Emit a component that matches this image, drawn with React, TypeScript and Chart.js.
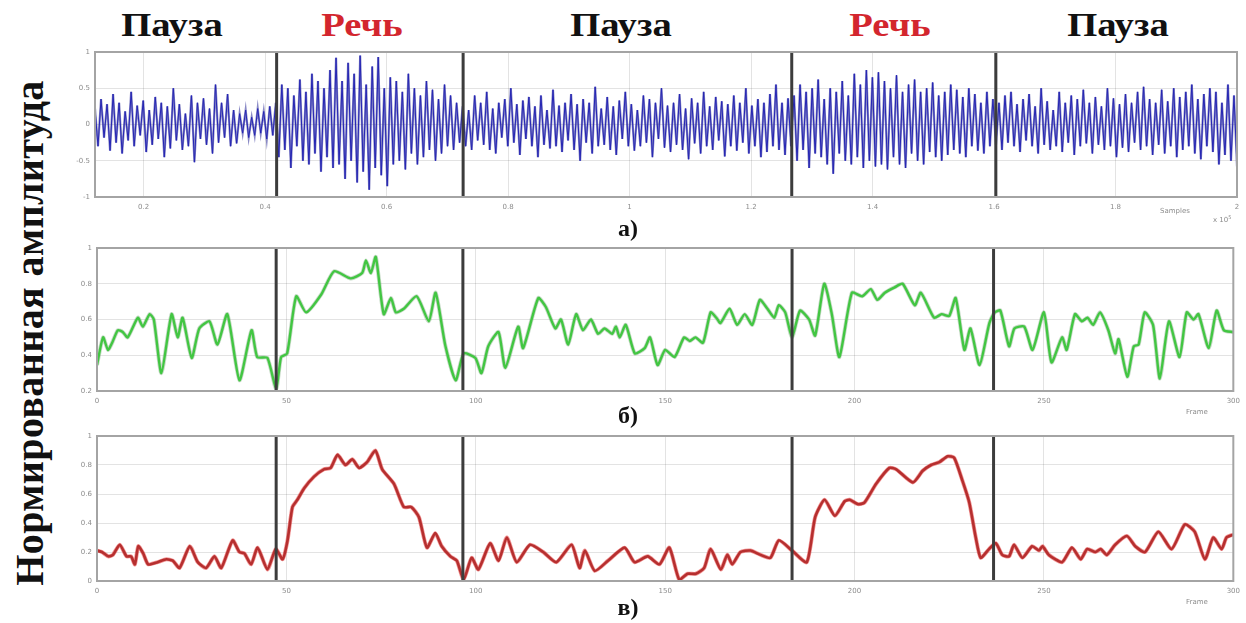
import React, { useEffect, useRef } from "react";
import { Chart, registerables } from "chart.js";

Chart.register(...registerables);

// ---------------- DATA ----------------
// Panel a) raw waveform (x in Samples ×10^5, uniformly sampled)
const SAMPLE_START = 0.12;
const SAMPLE_END = 2.0;
const WAVE_PAUSE_1 = [
  0.22, -0.3, 0.35, -0.18, 0.28, -0.36, 0.42, -0.25, 0.3, -0.4, 0.18, -0.22, 0.45, -0.3, 0.26, -0.15, 0.33, -0.38, 0.2, -0.28,
  0.38, -0.2, 0.3, -0.45, 0.25, -0.33, 0.5, -0.22, 0.28, -0.35, 0.15, -0.3, 0.4, -0.52, 0.3, -0.2, 0.36, -0.28, 0.22, -0.4,
  0.55, -0.25, 0.3, -0.18, 0.42, -0.3, 0.2, -0.26, 0.15, -0.12, 0.2, -0.18, 0.1, -0.15, 0.22, -0.12, 0.18, -0.2, 0.25, -0.15,
];
const WAVE_SPEECH_1 = [
  0.3, -0.45, 0.55, -0.35, 0.5, -0.6, 0.4, -0.3, 0.62, -0.5, 0.45, -0.55, 0.7, -0.4, 0.6, -0.65, 0.5, -0.45, 0.75, -0.6,
  0.92, -0.55, 0.6, -0.75, 0.85, -0.5, 0.7, -0.8, 0.95, -0.65, 0.55, -0.9, 0.8, -0.6, 0.93, -0.7, 0.5, -0.85, 0.65, -0.55,
  0.6, -0.5, 0.45, -0.62, 0.7, -0.4, 0.5, -0.55, 0.4, -0.45, 0.6, -0.35, 0.48, -0.5, 0.35, -0.4, 0.55, -0.3, 0.4, -0.35, 0.3, -0.25,
];
const WAVE_PAUSE_2 = [
  0.25, -0.3, 0.2, -0.35, 0.4, -0.22, 0.3, -0.28, 0.45, -0.35,
  0.22, -0.4, 0.3, -0.18, 0.35, -0.3, 0.5, -0.25, 0.28, -0.42,
  0.33, -0.2, 0.38, -0.3, 0.25, -0.45, 0.4, -0.28, 0.2, -0.33,
  0.48, -0.3, 0.26, -0.38, 0.3, -0.22, 0.42, -0.35, 0.28, -0.5,
  0.35, -0.25, 0.3, -0.4, 0.52, -0.3, 0.22, -0.28, 0.38, -0.35,
  0.25, -0.42, 0.33, -0.2, 0.45, -0.3, 0.28, -0.36, 0.2, -0.3,
  0.4, -0.25, 0.35, -0.45, 0.3, -0.2, 0.5, -0.32, 0.26, -0.38,
  0.3, -0.28, 0.42, -0.35, 0.22, -0.48, 0.36, -0.26, 0.3, -0.4,
  0.45, -0.3, 0.25, -0.35, 0.38, -0.22, 0.32, -0.44, 0.28, -0.3,
  0.4, -0.36, 0.3, -0.25, 0.5, -0.4, 0.26, -0.3, 0.35, -0.45,
  0.3, -0.38, 0.42, -0.3, 0.55, -0.35, 0.3, -0.42, 0.36, -0.3,
];
const WAVE_SPEECH_2 = [
  0.4, -0.5, 0.55, -0.35, 0.45, -0.6, 0.5, -0.4, 0.62, -0.45,
  0.35, -0.55, 0.5, -0.68, 0.45, -0.4, 0.6, -0.5, 0.4, -0.55,
  0.7, -0.45, 0.55, -0.6, 0.75, -0.5, 0.65, -0.58, 0.72, -0.55,
  0.6, -0.62, 0.5, -0.45, 0.68, -0.55, 0.45, -0.6, 0.55, -0.4,
  0.62, -0.5, 0.45, -0.55, 0.5, -0.38, 0.58, -0.45, 0.4, -0.5,
  0.45, -0.42, 0.55, -0.35, 0.48, -0.4, 0.38, -0.45, 0.5, -0.3,
  0.42, -0.36, 0.3, -0.4, 0.45, -0.3, 0.35, -0.28,
];
const WAVE_PAUSE_3 = [
  0.3, -0.35, 0.4, -0.25, 0.45, -0.3, 0.28, -0.38, 0.35, -0.22,
  0.42, -0.3, 0.25, -0.4, 0.5, -0.28, 0.32, -0.35, 0.2, -0.3,
  0.45, -0.38, 0.3, -0.25, 0.4, -0.42, 0.35, -0.3, 0.48, -0.26,
  0.3, -0.4, 0.38, -0.28, 0.25, -0.35, 0.5, -0.3, 0.36, -0.45,
  0.28, -0.32, 0.42, -0.38, 0.3, -0.25, 0.45, -0.35, 0.52, -0.3,
  0.35, -0.42, 0.3, -0.28, 0.48, -0.4, 0.32, -0.3, 0.5, -0.45,
  0.38, -0.35, 0.45, -0.3, 0.55, -0.4, 0.35, -0.48, 0.42, -0.3,
  0.5, -0.38, 0.45, -0.55, 0.3, -0.42, 0.55, -0.5, 0.4, -0.58,
];
const WAVE_VALUES = [...WAVE_PAUSE_1, ...WAVE_SPEECH_1, ...WAVE_PAUSE_2, ...WAVE_SPEECH_2, ...WAVE_PAUSE_3];

// Speech / pause boundaries
const BOUNDARY_SAMPLES = [0.419, 0.726, 1.267, 1.603];
const BOUNDARY_FRAMES = [47.3, 96.6, 183.5, 236.7];

// Panel б) green curve
const GREEN_FRAMES = [
  0, 1.6, 2.9, 4, 5.5, 6.8, 8.1, 10.8, 12.1, 13.9, 15, 17, 19.7, 21.3, 22.6, 25, 27, 29.7, 31.8, 34.4,
  37.6, 40.8, 42.3, 45, 47.3, 48.6, 50.2, 52.6, 55.2, 59.2, 62.6, 67, 70, 71, 72.3, 73.6, 75.7, 77.6, 78.9, 81,
  84.4, 87.6, 89.4, 92, 94.7, 96.8, 99.9, 101.5, 103.3, 106, 107.8, 111.2, 112.5, 116.5, 118.5, 121, 122.5, 124.4, 126.5, 128.3,
  130.4, 132.3, 134, 136, 137, 138, 139.6, 142, 144.6, 146, 148, 150, 152.5, 155, 156.5, 158, 160, 162, 163.5, 164.6,
  167, 169, 171, 173, 175, 177, 178.8, 180, 181.7, 183.5, 185.6, 188, 189.6, 192, 194, 196, 199.3, 202, 204.3, 206,
  208, 210.6, 212.7, 215.9, 217.5, 221, 223, 225, 226.7, 229, 230.6, 233, 235.6, 237, 238.5, 240.8, 242.2, 244.8, 247, 250,
  252, 254.8, 256, 258.2, 260, 261.5, 263, 264.8, 267, 268.8, 269.7, 272, 273.7, 275, 276.6, 278.8, 280.6, 283, 285.8, 287.7,
  289.5, 290.8, 293.5, 295.6, 297.5, 300,
];
const GREEN_VALUES = [
  0.345, 0.5, 0.43, 0.47, 0.54, 0.53, 0.5, 0.61, 0.56, 0.63, 0.6, 0.3, 0.63, 0.5, 0.61, 0.385, 0.55, 0.59, 0.46, 0.63,
  0.26, 0.54, 0.39, 0.385, 0.21, 0.39, 0.41, 0.73, 0.64, 0.74, 0.87, 0.83, 0.86, 0.93, 0.86, 0.95, 0.63, 0.72, 0.64, 0.66,
  0.73, 0.59, 0.75, 0.45, 0.26, 0.41, 0.385, 0.3, 0.45, 0.53, 0.33, 0.56, 0.44, 0.72, 0.67, 0.55, 0.6, 0.46, 0.63, 0.54,
  0.6, 0.52, 0.55, 0.52, 0.56, 0.5, 0.57, 0.41, 0.44, 0.5, 0.345, 0.43, 0.39, 0.5, 0.48, 0.5, 0.47, 0.64, 0.61, 0.58,
  0.66, 0.57, 0.63, 0.57, 0.71, 0.66, 0.61, 0.68, 0.64, 0.5, 0.65, 0.6, 0.51, 0.8, 0.63, 0.39, 0.75, 0.73, 0.77, 0.71,
  0.75, 0.78, 0.8, 0.68, 0.75, 0.61, 0.63, 0.62, 0.72, 0.43, 0.55, 0.345, 0.58, 0.64, 0.65, 0.45, 0.55, 0.56, 0.43, 0.64,
  0.36, 0.5, 0.43, 0.63, 0.59, 0.61, 0.57, 0.64, 0.54, 0.41, 0.49, 0.28, 0.45, 0.46, 0.64, 0.57, 0.27, 0.59, 0.39, 0.64,
  0.6, 0.63, 0.44, 0.65, 0.54, 0.53,
];

// Panel в) red curve
const RED_FRAMES = [
  0, 1.3, 3, 4.2, 6, 7.8, 9, 10, 10.9, 12.2, 13.5, 16, 18.3, 20, 21.8, 24.5, 26.6, 28.8, 31, 32.8,
  35.8, 37.6, 38.9, 40.7, 42.4, 45, 47.2, 49, 50.3, 51.6, 52.9, 54.7, 57.3, 59.9, 61.7, 63.5, 65.6, 67.4, 69.2, 71.3,
  73.5, 75.3, 78.4, 81, 83, 85, 87.1, 89.3, 91, 93.3, 95, 96.8, 98.9, 100.7, 103.8, 106, 108.2, 110.8, 114.3, 117.8,
  121.3, 125.3, 127.4, 128.8, 131.4, 134.9, 139.3, 141.9, 145.4, 148.5, 151.1, 153.7, 155.9, 158.1, 160.3, 162, 164.7, 166.4, 167.7, 169.9,
  172.5, 175.2, 177.8, 180, 183.5, 187.4, 189.6, 192.1, 194.8, 197.4, 198.7, 200.9, 202.6, 205.7, 209.2, 211, 215.4, 218, 220.2, 222.4,
  224.6, 226.3, 228.5, 230.3, 232, 233.3, 235.5, 237.3, 239, 240.8, 242.1, 244.3, 246.9, 248.7, 249.6, 251.3, 254.8, 257.4, 259.7, 261.4,
  263.6, 265, 266.6, 268.8, 271.9, 274.1, 276.7, 280.2, 283.7, 287.2, 289.8, 292.5, 294.7, 296.9, 298.2, 300,
];
const RED_VALUES = [
  0.21, 0.2, 0.17, 0.18, 0.25, 0.17, 0.17, 0.115, 0.24, 0.19, 0.115, 0.13, 0.15, 0.14, 0.09, 0.24, 0.13, 0.09, 0.17, 0.09,
  0.28, 0.2, 0.19, 0.115, 0.23, 0.08, 0.22, 0.15, 0.28, 0.51, 0.56, 0.64, 0.72, 0.77, 0.78, 0.87, 0.8, 0.84, 0.78, 0.82,
  0.9, 0.77, 0.67, 0.51, 0.51, 0.44, 0.23, 0.33, 0.24, 0.17, 0.14, 0.01, 0.16, 0.08, 0.26, 0.14, 0.3, 0.13, 0.25, 0.2,
  0.13, 0.25, 0.09, 0.21, 0.07, 0.14, 0.23, 0.13, 0.17, 0.115, 0.23, 0.01, 0.05, 0.05, 0.09, 0.22, 0.08, 0.18, 0.115, 0.2,
  0.21, 0.18, 0.16, 0.28, 0.21, 0.13, 0.44, 0.56, 0.45, 0.55, 0.56, 0.53, 0.54, 0.67, 0.78, 0.77, 0.68, 0.76, 0.8, 0.82,
  0.86, 0.85, 0.69, 0.54, 0.3, 0.16, 0.22, 0.26, 0.18, 0.17, 0.25, 0.16, 0.24, 0.21, 0.24, 0.18, 0.13, 0.23, 0.15, 0.22,
  0.2, 0.22, 0.18, 0.25, 0.31, 0.24, 0.2, 0.34, 0.22, 0.39, 0.34, 0.15, 0.3, 0.22, 0.3, 0.32,
];

// Tick values
const WAVE_X_TICKS = [0.2, 0.4, 0.6, 0.8, 1, 1.2, 1.4, 1.6, 1.8, 2];
const WAVE_Y_TICKS = [-1, -0.5, 0, 0.5, 1];
const FRAME_X_TICKS = [0, 50, 100, 150, 200, 250, 300];
const GREEN_Y_TICKS = [0.2, 0.4, 0.6, 0.8, 1];
const RED_Y_TICKS = [0, 0.2, 0.4, 0.6, 0.8, 1];

// Text
const SEGMENT_TITLES = ["Пауза", "Речь", "Пауза", "Речь", "Пауза"];
const SEGMENT_IS_SPEECH = [false, true, false, true, false];
const Y_TITLE = "Нормированная амплитуда";
const PANEL_LABELS = ["а)", "б)", "в)"];

// ---------------- LAYOUT / STYLE ----------------
const W = 1246;
const TITLE_CENTERS = [172, 362, 621, 890, 1118];
const PANEL_LABEL_TOPS = [216, 403, 595];
const FONT_SERIF = "'Liberation Serif', 'Times New Roman', serif";

type PanelCfg = {
  top: number;
  height: number;
  padTop: number;
  padLeft: number;
  padRight: number;
  xAxisH: number;
  xMin: number;
  xMax: number;
  xTicks: number[];
  yMin: number;
  yMax: number;
  yTicks: number[];
  boundaries: number[];
  datasets: any[];
};

const fmt = (v: number) => String(Number(v.toFixed(2)));

const framePlugin = {
  id: "frameAndBoundaries",
  afterDatasetsDraw(chart: any, _args: any, opts: any) {
    const { ctx, chartArea, scales } = chart;
    ctx.save();
    ctx.strokeStyle = "#3c3c3c";
    ctx.lineWidth = 3;
    (opts.boundaries || []).forEach((b: number) => {
      const px = scales.x.getPixelForValue(b);
      ctx.beginPath();
      ctx.moveTo(px, chartArea.top);
      ctx.lineTo(px, chartArea.bottom);
      ctx.stroke();
    });
    ctx.strokeStyle = "#a4a4a4";
    ctx.lineWidth = 2;
    ctx.strokeRect(chartArea.left, chartArea.top, chartArea.right - chartArea.left, chartArea.bottom - chartArea.top);
    ctx.restore();
  },
};

function Panel({ cfg }: { cfg: PanelCfg }) {
  const ref = useRef<HTMLCanvasElement | null>(null);
  useEffect(() => {
    if (!ref.current) return;
    const tickFont = { size: 7, family: "'DejaVu Sans', sans-serif" };
    const chart = new Chart(ref.current, {
      type: "line",
      data: { datasets: cfg.datasets },
      plugins: [framePlugin],
      options: {
        animation: false,
        responsive: false,
        devicePixelRatio: 1,
        events: [],
        layout: {
          autoPadding: false,
          padding: { top: cfg.padTop, left: cfg.padLeft, right: cfg.padRight, bottom: 0 },
        },
        plugins: {
          legend: { display: false },
          tooltip: { enabled: false },
          frameAndBoundaries: { boundaries: cfg.boundaries },
        } as any,
        scales: {
          x: {
            type: "linear",
            min: cfg.xMin,
            max: cfg.xMax,
            afterBuildTicks: (s: any) => {
              s.ticks = cfg.xTicks.map((v) => ({ value: v }));
            },
            afterFit: (s: any) => {
              s.height = cfg.xAxisH;
            },
            grid: { color: "rgba(0,0,0,0.11)", lineWidth: 1, drawTicks: false, tickLength: 0 },
            border: { display: false },
            ticks: {
              font: tickFont,
              color: "#8c8c8c",
              padding: 6,
              maxRotation: 0,
              autoSkip: false,
              callback: (v: any) => fmt(Number(v)),
            },
          },
          y: {
            type: "linear",
            min: cfg.yMin,
            max: cfg.yMax,
            afterBuildTicks: (s: any) => {
              s.ticks = cfg.yTicks.map((v) => ({ value: v }));
            },
            afterFit: (s: any) => {
              s.width = 30;
            },
            grid: { color: "rgba(0,0,0,0.11)", lineWidth: 1, drawTicks: false, tickLength: 0 },
            border: { display: false },
            ticks: {
              font: tickFont,
              color: "#8c8c8c",
              padding: 5,
              autoSkip: false,
              callback: (v: any) => fmt(Number(v)),
            },
          },
        },
      },
    } as any);
    return () => chart.destroy();
  }, [cfg]);
  return (
    <canvas
      ref={ref}
      width={W}
      height={cfg.height}
      style={{ position: "absolute", left: 0, top: cfg.top, width: W, height: cfg.height }}
    />
  );
}

const waveStep = (SAMPLE_END - SAMPLE_START) / (WAVE_VALUES.length - 1);
const wavePoints = WAVE_VALUES.map((y, i) => ({ x: SAMPLE_START + i * waveStep, y }));
const greenPoints = GREEN_FRAMES.map((x, i) => ({ x, y: GREEN_VALUES[i] }));
const redPoints = RED_FRAMES.map((x, i) => ({ x, y: RED_VALUES[i] }));

const PANELS: PanelCfg[] = [
  {
    top: 40,
    height: 190,
    padTop: 12,
    padLeft: 65,
    padRight: 9,
    xAxisH: 33,
    xMin: SAMPLE_START,
    xMax: SAMPLE_END,
    xTicks: WAVE_X_TICKS,
    yMin: -1,
    yMax: 1,
    yTicks: WAVE_Y_TICKS,
    boundaries: BOUNDARY_SAMPLES,
    datasets: [
      { data: wavePoints, borderColor: "rgba(40,40,150,0.55)", borderWidth: 2.2, pointRadius: 0, tension: 0 },
      { data: wavePoints, borderColor: "#2323d8", borderWidth: 1, pointRadius: 0, tension: 0 },
    ],
  },
  {
    top: 235,
    height: 180,
    padTop: 13,
    padLeft: 67,
    padRight: 8,
    xAxisH: 24,
    xMin: 0,
    xMax: 300,
    xTicks: FRAME_X_TICKS,
    yMin: 0.2,
    yMax: 1,
    yTicks: GREEN_Y_TICKS,
    boundaries: BOUNDARY_FRAMES,
    datasets: [
      { data: greenPoints, borderColor: "rgba(90,150,90,0.35)", borderWidth: 4, pointRadius: 0, tension: 0.2 },
      { data: greenPoints, borderColor: "#36e036", borderWidth: 2.4, pointRadius: 0, tension: 0.2 },
    ],
  },
  {
    top: 425,
    height: 180,
    padTop: 11,
    padLeft: 67,
    padRight: 8,
    xAxisH: 24,
    xMin: 0,
    xMax: 300,
    xTicks: FRAME_X_TICKS,
    yMin: 0,
    yMax: 1,
    yTicks: RED_Y_TICKS,
    boundaries: BOUNDARY_FRAMES,
    datasets: [
      { data: redPoints, borderColor: "rgba(230,60,60,0.55)", borderWidth: 4, pointRadius: 0, tension: 0.2 },
      { data: redPoints, borderColor: "#7d1f1f", borderWidth: 2.6, pointRadius: 0, tension: 0.2 },
    ],
  },
];

const smallGray: React.CSSProperties = {
  position: "absolute",
  fontFamily: "'DejaVu Sans', sans-serif",
  fontSize: 7,
  color: "#8c8c8c",
  whiteSpace: "nowrap",
};

export default function App() {
  return (
    <div
      style={{
        position: "fixed",
        left: 0,
        top: 0,
        width: W,
        height: 623,
        background: "#ffffff",
        overflow: "hidden",
      }}
    >
      {SEGMENT_TITLES.map((t, i) => (
        <div
          key={"t" + i}
          style={{
            position: "absolute",
            left: TITLE_CENTERS[i],
            top: 9,
            transform: "translateX(-50%) scaleX(1.17)",
            fontFamily: FONT_SERIF,
            fontWeight: "bold",
            fontSize: 33,
            lineHeight: "33px",
            color: SEGMENT_IS_SPEECH[i] ? "#d3262e" : "#111111",
            whiteSpace: "nowrap",
          }}
        >
          {t}
        </div>
      ))}
      <div
        style={{
          position: "absolute",
          left: 30,
          top: 333,
          transform: "translate(-50%, -50%) rotate(-90deg)",
          fontFamily: FONT_SERIF,
          fontWeight: "bold",
          fontSize: 40,
          lineHeight: "40px",
          letterSpacing: 0.4,
          color: "#111111",
          whiteSpace: "nowrap",
        }}
      >
        {Y_TITLE}
      </div>
      {PANELS.map((p, i) => (
        <Panel key={"p" + i} cfg={p} />
      ))}
      {PANEL_LABELS.map((l, i) => (
        <div
          key={"l" + i}
          style={{
            position: "absolute",
            left: 628,
            top: PANEL_LABEL_TOPS[i],
            transform: "translateX(-50%)",
            fontFamily: FONT_SERIF,
            fontWeight: "bold",
            fontSize: 24,
            lineHeight: "24px",
            color: "#111111",
            whiteSpace: "nowrap",
          }}
        >
          {l}
        </div>
      ))}
      <div style={{ ...smallGray, left: 1160, top: 207 }}>Samples</div>
      <div style={{ ...smallGray, left: 1213, top: 214 }}>
        x 10<sup style={{ fontSize: 5 }}>5</sup>
      </div>
      <div style={{ ...smallGray, left: 1186, top: 408 }}>Frame</div>
      <div style={{ ...smallGray, left: 1186, top: 598 }}>Frame</div>
    </div>
  );
}
